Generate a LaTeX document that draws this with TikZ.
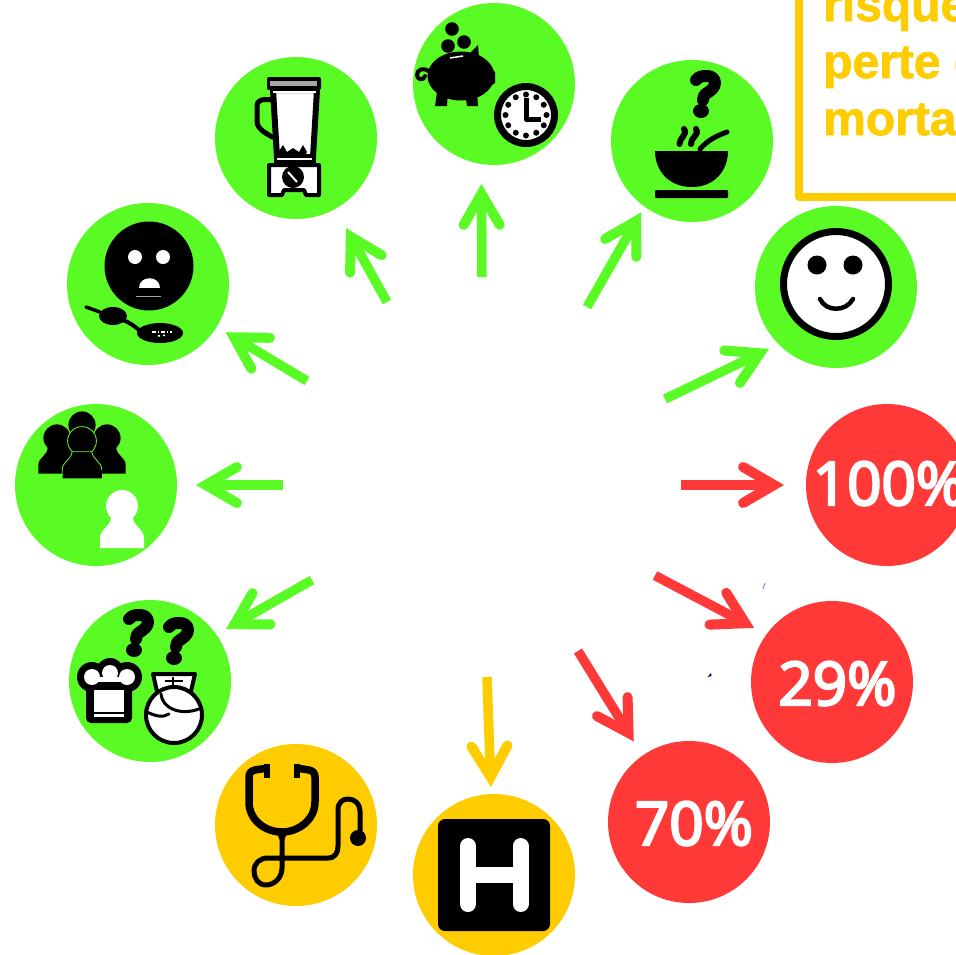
\documentclass[tikz,border=0pt]{standalone}
\usepackage{fontspec}
\setmainfont[BoldFeatures={FakeBold=1.5}]{Liberation Sans}
\newfontfamily\pctfont[FakeBold=4]{Open Sans}
\usetikzlibrary{arrows.meta}
\definecolor{gr}{HTML}{5AFA25}
\definecolor{rd}{HTML}{FF3838}
\definecolor{og}{HTML}{FFCC00}
\tikzset{
  disc/.style={circle,minimum size=162pt,inner sep=0pt,outer sep=0pt,fill=#1},
  conn/.style={line width=9.5pt,color=#1,line cap=butt,
    -{Straight Barb[length=31pt,width=36pt,line width=10pt,line cap=round,line join=miter]}},
  pct/.style={text=white,font=\pctfont\fontsize{60}{60}\selectfont,anchor=base,inner sep=0pt},
  boxtxt/.style={text=og,font=\bfseries\fontsize{48}{48}\selectfont,anchor=base west,inner sep=0pt},
  ink/.style={line width=#1,draw=black,line cap=round,line join=round},
  ink/.default=4pt
}
\newcommand\qmarkicon[2]{%
  \begin{scope}[shift={(#1,#2)}]
    \draw[ink=12pt] (7,10) .. controls (10,6) and (14,6) .. (18,6)
      .. controls (23,6) and (26,9) .. (26,13)
      .. controls (26,18) and (21,21) .. (18,23)
      .. controls (15,25) and (14,27) .. (14,30);
    \fill (12,41) ellipse (8 and 7);
  \end{scope}}
\newcommand\personicon[4]{% x y scale style
  \begin{scope}[shift={(#1,#2)},scale=#3]
    \path[#4] (0,0) circle (16);
    \path[#4] (-22,42) -- (-22,32) .. controls (-22,23) and (-12,21) .. (-11,12)
      -- (11,12) .. controls (12,21) and (22,23) .. (22,32) -- (22,42) -- cycle;
  \end{scope}}
\begin{document}
\begin{tikzpicture}[x=1pt,y=-1pt]
\useasboundingbox (0,0) rectangle (956,954);
\fill[white] (0,0) rectangle (956,954);
% text box
\draw[og,line width=8pt,line join=round] (799,-20) -- (799,197) -- (980,197);
\node[boxtxt] (t1) at (823,21) {risque};
\node[boxtxt] (t2) at (823,78) {perte d};
\node[boxtxt] (t3) at (823,135) {morta};
% discs
\node[disc=gr] (piggy) at (494,84) {};
\node[disc=gr] (bowl) at (692,141) {};
\node[disc=gr] (smile) at (836,287) {};
\node[disc=rd] (hundred) at (887,485) {};
\node[disc=rd] (twentynine) at (832,682) {};
\node[disc=rd] (seventy) at (689,822) {};
\node[disc=og] (hosp) at (494,875) {};
\node[disc=og] (steth) at (296,825) {};
\node[disc=gr] (chef) at (150,681) {};
\node[disc=gr] (people) at (96,485) {};
\node[disc=gr] (face) at (148,284) {};
\node[disc=gr] (blender) at (296,138) {};
% connector start points
\coordinate (s1) at (482,277);
\coordinate (s2) at (587,307);
\coordinate (s3) at (665,399);
\coordinate (s4) at (681,485);
\coordinate (s5) at (655,575.5);
\coordinate (s6) at (578,651);
\coordinate (s7) at (487,677);
\coordinate (s8) at (312,580);
\coordinate (s9) at (283,485);
\coordinate (s10) at (307,381);
\coordinate (s11) at (387,302);
\draw[conn=gr,shorten >=19.9pt] (s1) -- (piggy.261.5);
\draw[conn=gr,shorten >=6.7pt] (s2) -- (bowl.234.9);
\draw[conn=gr,shorten >=10.8pt] (s3) -- (smile.225);
\draw[conn=rd,shorten >=22pt] (s4) -- (hundred.180);
\draw[conn=rd,shorten >=14pt] (s5) -- (twentynine.144.2);
\draw[conn=rd,shorten >=16.7pt] (s6) -- (seventy.125.8);
\draw[conn=og,shorten >=7.1pt] (s7) -- (hosp.92.7);
\draw[conn=gr,shorten >=11.1pt] (s8) -- (chef.35);
\draw[conn=gr,shorten >=19pt] (s9) -- (people.0);
\draw[conn=gr,shorten >=10.3pt] (s10) -- (face.-32.7);
\draw[conn=gr,shorten >=22pt] (s11) -- (blender.-61);
% percent labels
\node[pct] (l100) at (889,505) {100\%};
\node[pct] (l29) at (837.5,705) {29\%};
\node[pct] (l70) at (694,845) {70\%};
% piggy icon
\fill (452,29) circle (6.8);
\fill (448,46) circle (6.8);
\fill (464,42) circle (6.8);
\fill (461,76) ellipse (33.5 and 24.5);
\fill (469,54) -- (478,45) -- (479,58) -- cycle;
\fill (486,64) -- (495,72) -- (495,83) -- (484,90) -- cycle;
\fill (437,92) -- (448,92) -- (447,106) -- (435,106) -- cycle;
\fill (465,92) -- (477,92) -- (478,106) -- (467,106) -- cycle;
\draw[ink=4pt] (430,72) .. controls (424,67) and (417,69) .. (417,75)
  .. controls (417,80) and (424,81) .. (425,76);
\draw[white,line width=1.5pt] (450,58) -- (463,56);
\filldraw[fill=white,draw=black,line width=7pt] (526,115) circle (28.5);
\foreach \a in {0,30,...,330}{\fill (526,115) ++(\a:20.5) circle (3);}
\draw[ink=5pt,line cap=butt] (526,98) -- (526,119) -- (541,119);
% bowl icon
\qmarkicon{689}{70}
\fill (655,151) -- (728,151) .. controls (728,170) and (715,187) .. (692,187)
  .. controls (668,187) and (655,170) .. (655,151) -- cycle;
\fill[rounded corners=1pt] (655,190) rectangle (728,198);
\draw[ink=5pt] (700,149) .. controls (708,140) and (716,136) .. (727,132);
\draw[ink=6pt] (684,129) .. controls (688,135) and (679,138) .. (679.5,144);
\draw[ink=6pt] (696,129) .. controls (700,135) and (690,138) .. (691,144);
% smile icon
\filldraw[fill=white,draw=black,line width=7pt] (836,284) circle (52.5);
\fill (817,265) circle (9.5);
\fill (853,265) circle (9.5);
\draw[ink=4.5pt] (820,299) .. controls (826,312) and (846,312) .. (853,299);
% blender icon
\filldraw[fill=white,ink=6pt] (273,90) -- (317,90) -- (313,157) -- (277,157) -- cycle;
\fill[rounded corners=2pt] (267,77) rectangle (321,90);
\fill[gray!70] (270,81) rectangle (317,86);
\fill[white] (273,91) rectangle (316,93);
\draw[ink=5pt,line join=round] (272,100) .. controls (264,99) and (257,99) .. (257,106) -- (257,122) .. controls (258,130) and (266,133) .. (272,137);
\fill (283,145) -- (287,152) -- (293,148) -- (299,152) -- (303,145) -- (307,152) -- (304,157) -- (281,157) -- (279,151) -- cycle;
\fill (274,156) rectangle (316,165);
\fill[white] (277,157.5) rectangle (312,160);
\filldraw[fill=white,ink=4pt] (269,165) -- (319,165) -- (319,195) -- (306,195) -- (304,190) -- (284,190) -- (282,195) -- (269,195) -- cycle;
\fill (293,177) circle (11);
\draw[white,line width=2pt] (288,172) -- (297,182);
% face icon
\fill (149,266) circle (44.5);
\fill[white] (135,257) circle (7);
\fill[white] (163,257) circle (7);
\fill[white] (139,288) .. controls (139,275) and (160,275) .. (160,288) -- cycle;
\draw[gray!70,line width=.8pt] (136,296) -- (161,296);
\draw[ink=3.5pt] (86,307) -- (100,312);
\fill (113,316) ellipse (14 and 9);
\draw[ink=4pt] (122,320) .. controls (130,322) and (135,327) .. (142,332);
\fill (160,333) ellipse (23 and 10);
\draw[white,line width=1.5pt,dash pattern=on 4pt off 2pt on 1pt off 2pt] (152,332) -- (172,332);
\draw[white,line width=1.5pt,dash pattern=on 2pt off 3pt] (158,336) -- (168,335);
% people icon
\personicon{82}{425}{.85}{fill=black}
\personicon{57}{438}{.85}{fill=black}
\personicon{107}{438}{.85}{fill=black}
\personicon{82}{441}{.9}{fill=black,draw=gr,line width=.8pt}
\fill (63,470) rectangle (102,478);
\personicon{122}{506}{1}{fill=white}
% chef icon
\qmarkicon{122}{609}
\qmarkicon{162}{617}
\fill (92,677) circle (15);
\fill (110,672) circle (14);
\fill (127,677) circle (15);
\fill[rounded corners=5pt] (86,680) rectangle (132,723);
\fill[white] (92,677) circle (8);
\fill[white] (110,673) circle (8);
\fill[white] (127,677) circle (8);
\fill[white] (92,677) rectangle (127,682);
\fill[white] (94,690) rectangle (124,712);
\fill[white] (94,714) rectangle (124,717);
\filldraw[fill=white,ink=4pt] (153,674) -- (195,674) -- (189,700) -- (159,700) -- cycle;
\draw[ink=2.5pt,line cap=butt] (165,681) -- (183,681);
\draw[ink=2.5pt,line cap=butt] (173,677) -- (173,685);
\filldraw[fill=white,ink=4pt] (174,715) circle (28);
\draw[ink=3pt] (147,712) .. controls (155,716) and (163,718) .. (169,714);
\draw[ink=3pt] (161,694) .. controls (162,708) and (180,716) .. (199,709);
% stethoscope icon
\draw[ink=7.5pt,line cap=butt] (268,768) -- (255,770) .. controls (251,771) and (249,773) .. (249,777)
  -- (249,802) .. controls (249,820) and (265,832) .. (282,832)
  .. controls (298,832) and (315,820) .. (315,802) -- (315,777)
  .. controls (315,773) and (313,771) .. (309,770) -- (296,768);
\draw[black,line width=6pt] (267,764) -- (267,778);
\draw[black,line width=6pt] (297,764) -- (297,778);
\draw[ink=5pt] (282,832) -- (282,868) .. controls (282,878) and (274,885) .. (266,885)
  .. controls (258,885) and (254,878) .. (254,871) .. controls (254,863) and (260,858) .. (268,858)
  -- (328,858) .. controls (335,858) and (338,853) .. (338,846) -- (338,810)
  .. controls (338,802) and (343,799) .. (348,799) .. controls (355,799) and (360,804) .. (360,811) -- (360,832);
\fill (358,838) circle (8);
\fill (275,829) -- (289,829) -- (282,845) -- cycle;
% hospital icon
\fill[rounded corners=7pt] (438,819) rectangle (550,931);
\draw[white,line width=16pt,line cap=round] (468,846) -- (468,904);
\draw[white,line width=16pt,line cap=round] (520.5,846) -- (520.5,904);
\fill[white] (468,867) rectangle (520.5,883);
% specks
\draw[blue!60!white,line width=.8pt] (763,589) -- (765,583);
\fill[blue!40!black] (707.5,677) -- (711,673) -- (711.5,676) -- cycle;
\end{tikzpicture}
\end{document}
